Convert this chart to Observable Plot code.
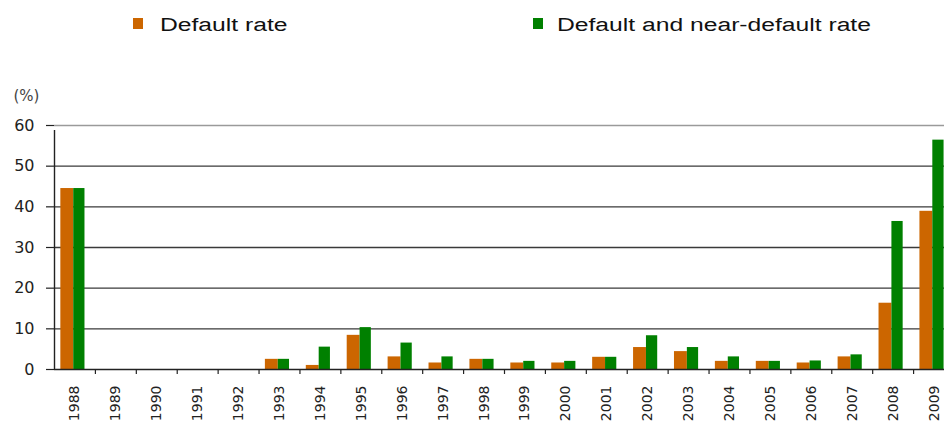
<!DOCTYPE html>
<html>
<head>
<meta charset="utf-8">
<script src="https://cdn.jsdelivr.net/npm/d3@7"></script>
<script src="https://cdn.jsdelivr.net/npm/@observablehq/plot@0.6"></script>
<style>
html, body { margin: 0; padding: 0; background: #fff; width: 944px; height: 424px; overflow: hidden; }
#legend { position: relative; width: 944px; height: 50px; font-family: "Liberation Sans", Arial, sans-serif; font-size: 18px; line-height: 18px; color: #111; }
.sw { position: absolute; width: 10px; height: 11px; }
.lbl { position: absolute; white-space: nowrap; transform: scaleX(1.37); transform-origin: left center; }
#chart { position: relative; width: 944px; height: 374px; }
</style>
</head>
<body>
<div id="legend"></div>
<div id="chart"></div>
<script>
const years = [1988, 1989, 1990, 1991, 1992, 1993, 1994, 1995, 1996, 1997, 1998,
               1999, 2000, 2001, 2002, 2003, 2004, 2005, 2006, 2007, 2008, 2009];
const defaultRate =     [44.5, 0, 0, 0, 0, 2.5, 1.0, 8.4, 3.1, 1.6, 2.5,
                         1.6, 1.6, 3.0, 5.4, 4.4, 2.0, 2.0, 1.6, 3.1, 16.3, 38.9];
const nearDefaultRate = [44.5, 0, 0, 0, 0, 2.5, 5.5, 10.3, 6.5, 3.1, 2.5,
                         2.0, 2.0, 3.0, 8.3, 5.4, 3.1, 2.0, 2.1, 3.6, 36.4, 56.4];
const seriesNames = ["Default rate", "Default and near-default rate"];
const seriesColors = ["#cc6600", "#008000"];
const yTicks = [0, 10, 20, 30, 40, 50, 60];
const unitLabel = "(%)";

// legend
const legend = document.getElementById("legend");
const legendPos = [{sw: 133, tx: 160}, {sw: 533, tx: 557}];
seriesNames.forEach((name, i) => {
  const sw = document.createElement("span");
  sw.className = "sw";
  sw.style.left = legendPos[i].sw + "px";
  sw.style.top = "18px";
  sw.style.background = seriesColors[i];
  legend.appendChild(sw);
  const t = document.createElement("span");
  t.className = "lbl";
  t.style.left = legendPos[i].tx + "px";
  t.style.top = "16px";
  t.textContent = name;
  legend.appendChild(t);
});

// data table
const rows = years.flatMap((yr, i) => [
  {year: yr, series: seriesNames[0], value: defaultRate[i]},
  {year: yr, series: seriesNames[1], value: nearDefaultRate[i]}
]);
const boundaries = years.slice(0, -1).map(y => y + 0.5);

const chart = Plot.plot({
  width: 944,
  height: 374,
  marginTop: 75,
  marginBottom: 55,
  marginLeft: 54,
  marginRight: 0,
  style: {fontFamily: "DejaVu Sans", color: "#222", background: "#fff"},
  x: {domain: [1987.5, 2009.5], range: [54, 954]},
  y: {domain: [0, 60]},
  color: {domain: seriesNames, range: seriesColors},
  marks: [
    Plot.ruleY(yTicks.filter(t => t > 0), {stroke: d => d === 60 ? "#9a9a9a" : "#3a3a3a", strokeWidth: 1.3}),
    Plot.rectY(rows, {
      x1: d => d.year + (d.series === seriesNames[0] ? -0.345 : -0.03),
      x2: d => d.year + (d.series === seriesNames[0] ? -0.03 : 0.245),
      y1: 0,
      y2: "value",
      fill: "series"
    }),
    Plot.ruleY([0], {stroke: "#222", strokeWidth: 1.4}),
    Plot.ruleX([1987.5], {y1: 0, y2: 60, insetBottom: -5, stroke: "#222", strokeWidth: 1.4}),
    Plot.axisX(boundaries, {tickSize: 5, tickFormat: () => "", stroke: "#222", strokeWidth: 1.2, label: null}),
    Plot.axisX(years, {tickSize: 0, tickPadding: 16, tickRotate: -90, fontSize: 14, tickFormat: d => String(d), label: null}),
    Plot.axisY(yTicks, {tickSize: 8, tickPadding: 12, fontSize: 16, stroke: "#222", strokeWidth: 1.2, label: null}),
    Plot.text([unitLabel], {frameAnchor: "top-left", dx: -41, dy: -25, textAnchor: "start", lineAnchor: "bottom", fontSize: 15, fill: "#444"})
  ]
});
document.getElementById("chart").appendChild(chart);
</script>
</body>
</html>
